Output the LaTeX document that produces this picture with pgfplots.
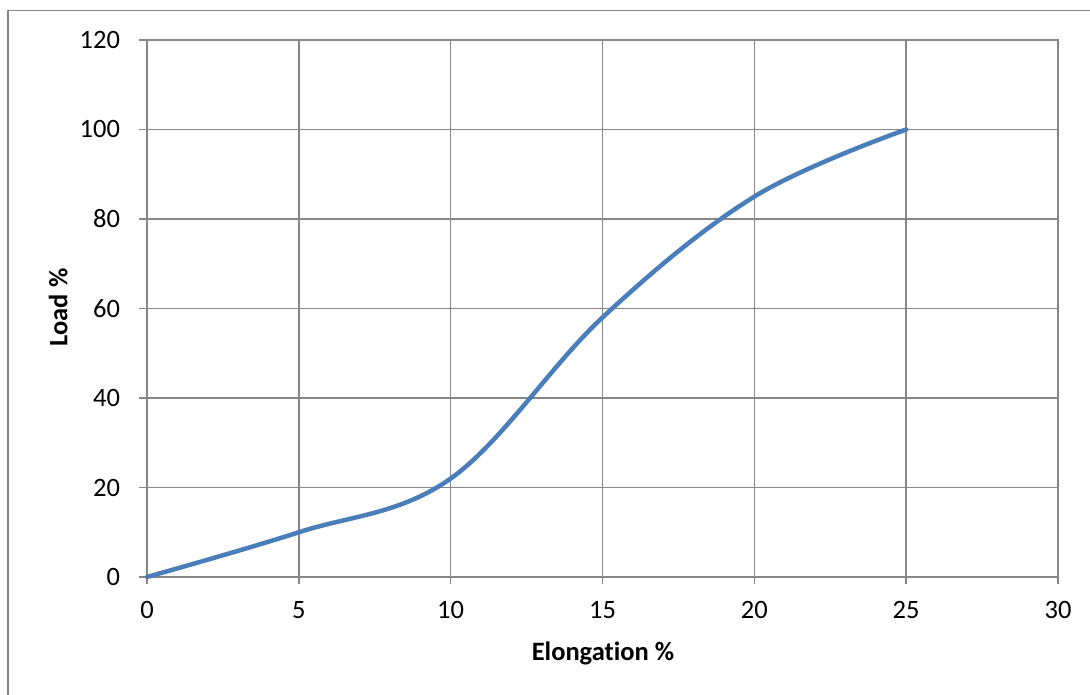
\documentclass[border=0pt]{standalone}
\usepackage{fontspec}
\setmainfont{Carlito}[Ligatures=NoCommon]
\usepackage{pgfplots}
\pgfplotsset{compat=1.18}
\definecolor{gridgray}{HTML}{868686}
\definecolor{excelblue}{HTML}{4A7EBB}
\begin{document}
\begin{tikzpicture}
\useasboundingbox (0,0) rectangle (1090pt,695pt);
\fill[white] (0,0) rectangle (1090pt,695pt);
\draw[gridgray, line width=1.5pt] (8pt,0pt) -- (8pt,684.5pt) -- (1090pt,684.5pt);
\begin{axis}[
  at={(147pt,118pt)}, anchor=south west,
  scale only axis,
  width=911pt, height=537pt,
  xmin=0, xmax=30, ymin=0, ymax=120,
  xtick={0,5,...,30}, ytick={0,20,...,120},
  grid=major,
  major grid style={gridgray, line width=1.6pt},
  axis line style={gridgray, line width=1.6pt},
  tick style={gridgray, line width=1.6pt},
  tick align=outside,
  major tick length=7.5pt,
  xtick pos=bottom, ytick pos=left,
  /pgf/number format/assume math mode=true,
  ticklabel style={font=\fontsize{26.5}{31}\selectfont, text=black},
  xticklabel style={yshift=-13pt},
  yticklabel style={xshift=-16pt},
  clip=false,
]
\addplot[excelblue, line width=4.5pt, smooth, tension=0.6, line cap=round] coordinates {
  (0,0) (5,10) (10,22) (15,58) (20,85) (25,100)
};
\node[font=\fontsize{26.5}{31}\selectfont\bfseries, anchor=center] at (axis description cs:0.5005,-0.1415) {Elongation \%};
\node[font=\fontsize{26.5}{31}\selectfont\bfseries, anchor=center, rotate=90] at (axis description cs:-0.0975,0.502) {Load \%};
\end{axis}
\end{tikzpicture}
\end{document}
